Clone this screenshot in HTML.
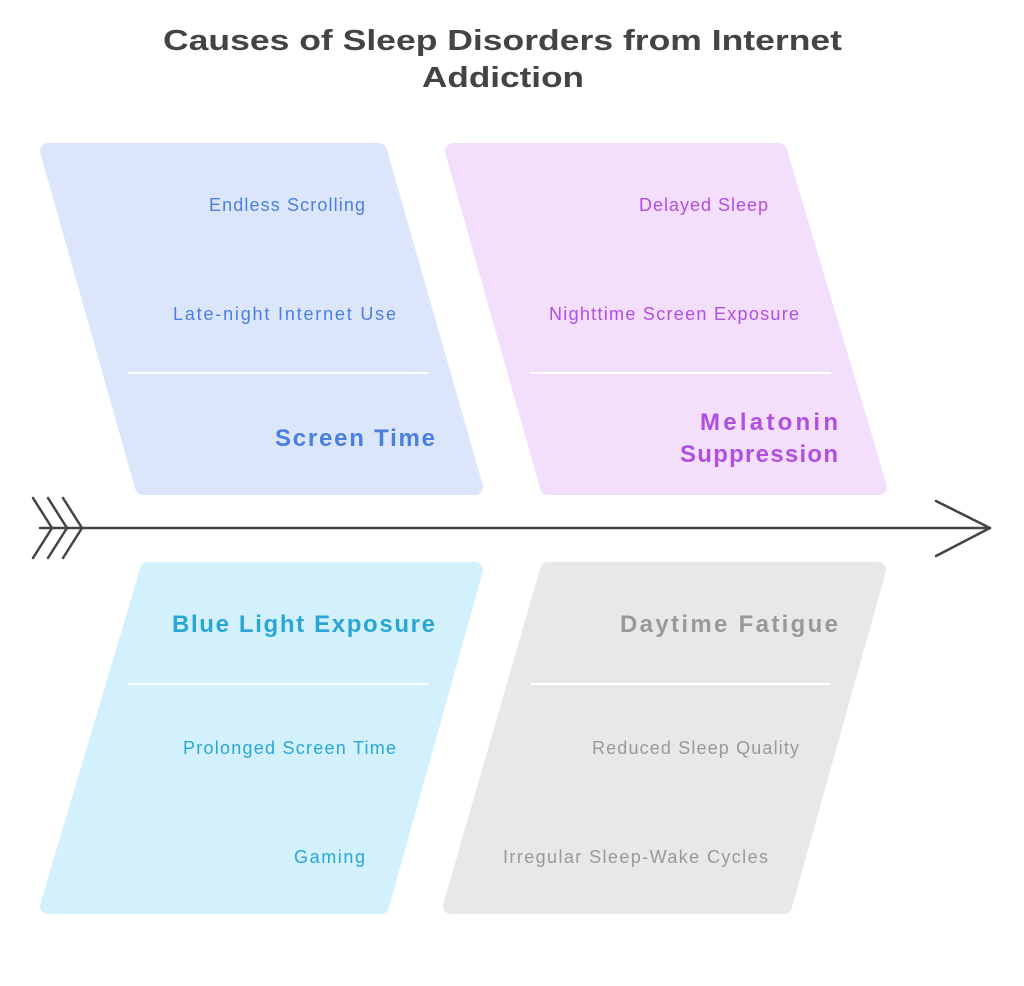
<!DOCTYPE html>
<html><head><meta charset="utf-8"><style>
body{margin:0;background:#fff;width:1024px;height:981px;overflow:hidden}
svg text{font-family:"Liberation Sans",sans-serif}
</style></head><body>
<svg width="1024" height="981" viewBox="0 0 1024 981">
<g stroke-linejoin="round" stroke-width="16">
<polygon points="48,151 379,151 475,487 143,487" fill="#dce6fb" stroke="#dce6fb"/>
<polygon points="453,151 779,151 879,487 548,487" fill="#f3defc" stroke="#f3defc"/>
<polygon points="148,570 475,570 381,906 48,906" fill="#d3f1fc" stroke="#d3f1fc"/>
<polygon points="548,570 878,570 784,906 451,906" fill="#e8e8e8" stroke="#e8e8e8"/>
</g>
<g stroke="#fff" stroke-width="2">
<line x1="128" y1="373" x2="428" y2="373"/>
<line x1="531" y1="373" x2="831" y2="373"/>
<line x1="128" y1="684" x2="428" y2="684"/>
<line x1="531" y1="684" x2="831" y2="684"/>
</g>
<g stroke="#444" stroke-width="2.5" fill="none" stroke-linecap="round" stroke-linejoin="round">
<line x1="40" y1="528" x2="990" y2="528"/>
<polyline points="936,501 990,528 936,556"/>
<polyline points="33,498 52,528 33,558"/>
<polyline points="48,498 67,528 48,558"/>
<polyline points="63,498 82,528 63,558"/>
</g>
<text x="163" y="50" textLength="679" lengthAdjust="spacingAndGlyphs" font-size="29" font-weight="bold" fill="#444">Causes of Sleep Disorders from Internet</text>
<text x="422" y="87" textLength="162" lengthAdjust="spacingAndGlyphs" font-size="29" font-weight="bold" fill="#444">Addiction</text>
<g font-size="18" lengthAdjust="spacingAndGlyphs">
<text x="209" y="211" textLength="156" fill="#4a7fe0">Endless Scrolling</text>
<text x="173" y="320" textLength="223" fill="#4a7fe0">Late-night Internet Use</text>
<text x="639" y="211" textLength="129" fill="#b04fe0">Delayed Sleep</text>
<text x="549" y="320" textLength="250" fill="#b04fe0">Nighttime Screen Exposure</text>
<text x="183" y="754" textLength="213" fill="#2aa6d6">Prolonged Screen Time</text>
<text x="294" y="863" textLength="71" fill="#2aa6d6">Gaming</text>
<text x="592" y="754" textLength="207" fill="#999">Reduced Sleep Quality</text>
<text x="503" y="863" textLength="265" fill="#999">Irregular Sleep-Wake Cycles</text>
</g>
<g font-size="24" font-weight="bold" lengthAdjust="spacingAndGlyphs">
<text x="275" y="446" textLength="160" fill="#4a7fe0">Screen Time</text>
<text x="700" y="430" textLength="138" fill="#b04fe0">Melatonin</text>
<text x="680" y="462" textLength="158" fill="#b04fe0">Suppression</text>
<text x="172" y="632" textLength="263" fill="#2aa6d6">Blue Light Exposure</text>
<text x="620" y="632" textLength="218" fill="#999">Daytime Fatigue</text>
</g>
</svg>
</body></html>
